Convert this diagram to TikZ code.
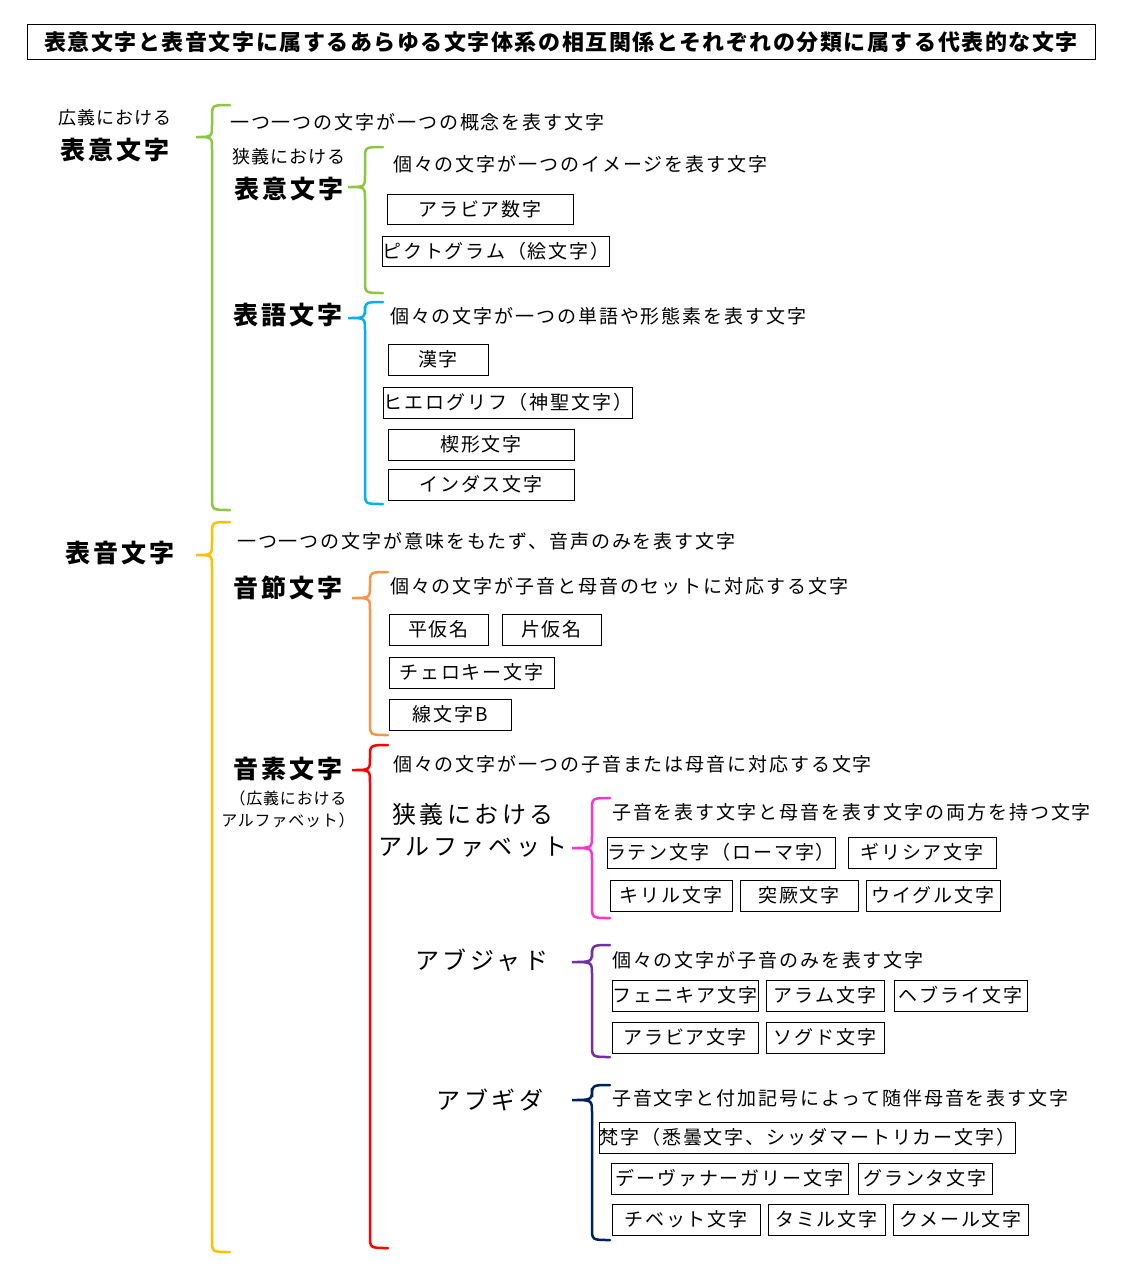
\documentclass[tikz,border=0pt]{standalone}
\usepackage{fontspec}
\setmainfont{Noto Sans CJK JP}
\begin{document}
\begin{tikzpicture}[x=1pt,y=-1pt,
  txt/.style={anchor=west,inner sep=0pt,font=\fontsize{19}{21}\selectfont\addfontfeature{LetterSpace=10}},
  big/.style={inner sep=0pt,font=\fontsize{25}{28}\selectfont\bfseries\addfontfeature{LetterSpace=12}},
  mid/.style={inner sep=0pt,font=\fontsize{24}{27}\selectfont\addfontfeature{LetterSpace=15}},
  sm/.style={inner sep=0pt,font=\fontsize{16}{18}\selectfont\addfontfeature{LetterSpace=5}},
  smb/.style={inner sep=0pt,font=\fontsize{18}{20}\selectfont\addfontfeature{LetterSpace=5}},
  box/.style={draw,line width=0.9pt,inner sep=0pt,font=\fontsize{19}{21}\selectfont\addfontfeature{LetterSpace=10}},
  brace/.style={line width=2.5pt,line cap=round}]
\useasboundingbox (0,0) rectangle (1120,1286);
\fill[white] (0,0) rectangle (1120,1286);
\definecolor{bgreen}{HTML}{8DC63F}
\definecolor{bblue}{HTML}{00B0F0}
\definecolor{byellow}{HTML}{FFC000}
\definecolor{borange}{HTML}{F79646}
\definecolor{bred}{HTML}{FF0000}
\definecolor{bmagenta}{HTML}{FF33CC}
\definecolor{bpurple}{HTML}{7030A0}
\definecolor{bnavy}{HTML}{002060}
\newcommand\bx[6]{\node[box,minimum width={#3-#2},minimum height={#5-#4}] (#1) at ({(#2+#3)/2},{(#4+#5)/2}) {#6};}
\newcommand\brc[6]{\draw[brace,draw=#1] (#2+18,#3) .. controls (#2,#3) .. (#2,#3+12) -- (#2,#5-12) .. controls (#2,#5) .. (#6,#5) .. controls (#2,#5) .. (#2,#5+12) -- (#2,#4-12) .. controls (#2,#4) .. (#2+18,#4);}
\node[draw,line width=0.9pt,minimum width=1068,minimum height=35,inner sep=0pt,font=\fontsize{22}{24}\selectfont\bfseries\addfontfeature{LetterSpace=7}] (title) at (561,42) {表意文字と表音文字に属するあらゆる文字体系の相互関係とそれぞれの分類に属する代表的な文字};
% ideographic
\node[smb] (l1a) at (115,118) {広義における};
\node[big] (l1b) at (115,150) {表意文字};
\brc{bgreen}{212}{105}{510}{137}{196}
\node[txt] (d1) at (230,122) {一つ一つの文字が一つの概念を表す文字};
\node[smb] (l2a) at (289,157) {狭義における};
\node[big] (l2b) at (289,189) {表意文字};
\brc{bgreen}{365}{147}{293}{187}{348}
\node[txt] (d2) at (393,164) {個々の文字が一つのイメージを表す文字};
\bx{b1}{387}{573}{194}{224}{アラビア数字}
\bx{b2}{387}{605}{236}{266}{ピクトグラム（絵文字）}
\node[big] (l3) at (288,315) {表語文字};
\brc{bblue}{365}{302}{504}{318}{348}
\node[txt] (d3) at (390,316) {個々の文字が一つの単語や形態素を表す文字};
\bx{b3}{388}{488}{344}{375}{漢字}
\bx{b4}{388}{628}{387}{418}{ヒエログリフ（神聖文字）}
\bx{b5}{388}{574}{429}{460}{楔形文字}
\bx{b6}{388}{574}{469}{500}{インダス文字}
% phonographic
\node[big] (l4) at (120,553) {表音文字};
\brc{byellow}{212}{522}{1252}{555}{196}
\node[txt] (d4) at (237,541) {一つ一つの文字が意味をもたず、音声のみを表す文字};
\node[big] (l5) at (288,588) {音節文字};
\brc{borange}{370}{572}{735}{598}{352}
\node[txt] (d5) at (390,586) {個々の文字が子音と母音のセットに対応する文字};
\bx{b7}{389}{488}{614}{645}{平仮名}
\bx{b8}{502}{601}{614}{645}{片仮名}
\bx{b9}{389}{554}{657}{688}{チェロキー文字}
\bx{b10}{389}{511}{699}{730}{線文字B}
\node[big] (l6) at (288,769) {音素文字};
\node[sm] (l6a) at (288,798) {（広義における};
\node[sm] (l6b) at (288,820) {アルファベット）};
\brc{bred}{370}{745}{1248}{770}{352}
\node[txt] (d6) at (393,764) {個々の文字が一つの子音または母音に対応する文字};
\node[mid] (l7a) at (473,814) {狭義における};
\node[mid] (l7b) at (473,847) {アルファベット};
\brc{bmagenta}{592}{798}{918}{848}{572}
\node[txt] (d7) at (612,812) {子音を表す文字と母音を表す文字の両方を持つ文字};
\bx{b11}{610}{832}{837}{868}{ラテン文字（ローマ字）}
\bx{b12}{848}{996}{837}{868}{ギリシア文字}
\bx{b13}{610}{732}{880}{911}{キリル文字}
\bx{b14}{740}{858}{880}{911}{突厥文字}
\bx{b15}{866}{1000}{880}{911}{ウイグル文字}
\node[mid] (l8) at (482,960) {アブジャド};
\brc{bpurple}{592}{945}{1057}{962}{572}
\node[txt] (d8) at (612,960) {個々の文字が子音のみを表す文字};
\bx{b16}{612}{758}{980}{1011}{フェニキア文字}
\bx{b17}{766}{884}{980}{1011}{アラム文字}
\bx{b18}{894}{1027}{980}{1011}{ヘブライ文字}
\bx{b19}{612}{758}{1022}{1053}{アラビア文字}
\bx{b20}{766}{884}{1022}{1053}{ソグド文字}
\node[mid] (l9) at (490,1100) {アブギダ};
\brc{bnavy}{592}{1085}{1240}{1100}{572}
\node[txt] (d9) at (612,1098) {子音文字と付加記号によって随伴母音を表す文字};
\bx{b21}{611}{1004}{1122}{1153}{梵字（悉曇文字、シッダマートリカー文字）}
\bx{b22}{611}{848}{1163}{1194}{デーヴァナーガリー文字}
\bx{b23}{858}{992}{1163}{1194}{グランタ文字}
\bx{b24}{612}{760}{1204}{1235}{チベット文字}
\bx{b25}{768}{885}{1204}{1235}{タミル文字}
\bx{b26}{893}{1028}{1204}{1235}{クメール文字}
\end{tikzpicture}
\end{document}
